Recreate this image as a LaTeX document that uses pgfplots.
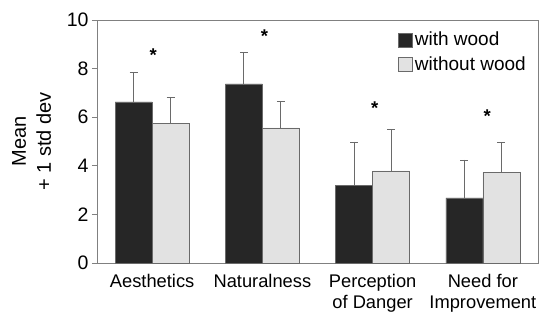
\documentclass[border=0pt]{standalone}
\usepackage{pgfplots}
\pgfplotsset{compat=1.18}
\usepackage{fontspec}
\setmainfont{Liberation Sans}
\definecolor{darkbar}{HTML}{262626}
\definecolor{lightbar}{HTML}{E2E2E2}
\definecolor{edge}{HTML}{6A6A6A}
\definecolor{axgrey}{HTML}{808080}
\begin{document}
\begin{tikzpicture}
\begin{axis}[
  name=ax,
  scale only axis,
  width=441pt, height=243pt,
  ybar=0pt, bar width=37pt,
  xmin=-0.5, xmax=3.5, ymin=0, ymax=10,
  ytick={0,2,4,6,8,10},
  xtick={0,1,2,3},
  xticklabels={Aesthetics,Naturalness,Perception\\of Danger,Need for\\Improvement},
  xticklabel style={align=center, font=\fontsize{18.3}{21}\selectfont},
  x tick label style={yshift=-2.5pt},
  major x tick style={draw=none},
  extra x ticks={0.5,1.5,2.5},
  extra x tick labels={},
  extra x tick style={major tick length=5pt, tick align=outside, tick pos=bottom, major tick style={draw=axgrey, line width=0.8pt}},
  ytick align=outside, ytick pos=left,
  major tick length=5pt,
  tick style={draw=axgrey, line width=0.8pt},
  yticklabel style={font=\fontsize{19.5}{22}\selectfont},
  /pgf/number format/assume math mode=true,
  axis line style={draw=axgrey, line width=0.8pt},
  ylabel={Mean\\+ 1 std dev},
  ylabel style={align=center, font=\fontsize{20}{25}\selectfont, at={(axis description cs:-0.1485,0.5)}, anchor=center},
  legend style={at={(1,1)}, anchor=north east, xshift=-7pt, yshift=-8pt, draw=none, fill=none,
    font=\fontsize{19}{22}\selectfont, row sep=5pt,
    /tikz/every even column/.append style={column sep=2pt}},
  legend image code/.code={\draw[#1, line width=0.6pt] (0pt,-7pt) rectangle (14.5pt,7pt);},
  legend cell align=left,
]
\addplot[fill=darkbar, draw=edge, line width=0.6pt, bar shift=-18.5pt,
  error bars/.cd, y dir=plus, y explicit,
  error bar style={draw=edge, line width=0.8pt},
  error mark options={rotate=90, draw=edge, mark size=4pt, line width=0.8pt}]
  table[x=x, y=y, y error=e] {
x y e
0 6.63 1.23
1 7.37 1.31
2 3.21 1.77
3 2.68 1.56
};
\addlegendentry{with wood}
\addplot[fill=lightbar, draw=edge, line width=0.6pt, bar shift=18.5pt,
  error bars/.cd, y dir=plus, y explicit,
  error bar style={draw=edge, line width=0.8pt},
  error mark options={rotate=90, draw=edge, mark size=4pt, line width=0.8pt}]
  table[x=x, y=y, y error=e] {
x y e
0 5.76 1.07
1 5.56 1.11
2 3.79 1.72
3 3.74 1.24
};
\addlegendentry{without wood}
\addplot[draw=none, fill=none, forget plot, bar shift=0pt,
  nodes near coords={*},
  every node near coord/.style={anchor=base, inner sep=0pt, yshift=-10pt, font=\fontsize{18.5}{20}\selectfont\bfseries}]
  coordinates {(0.01,8.72) (1.02,9.47) (2.02,6.54) (3.04,6.21)};
\end{axis}
\pgfresetboundingbox
\useasboundingbox ([xshift=-97pt,yshift=-51pt]ax.south west) rectangle ([xshift=3pt,yshift=20pt]ax.north east);
\end{tikzpicture}
\end{document}
